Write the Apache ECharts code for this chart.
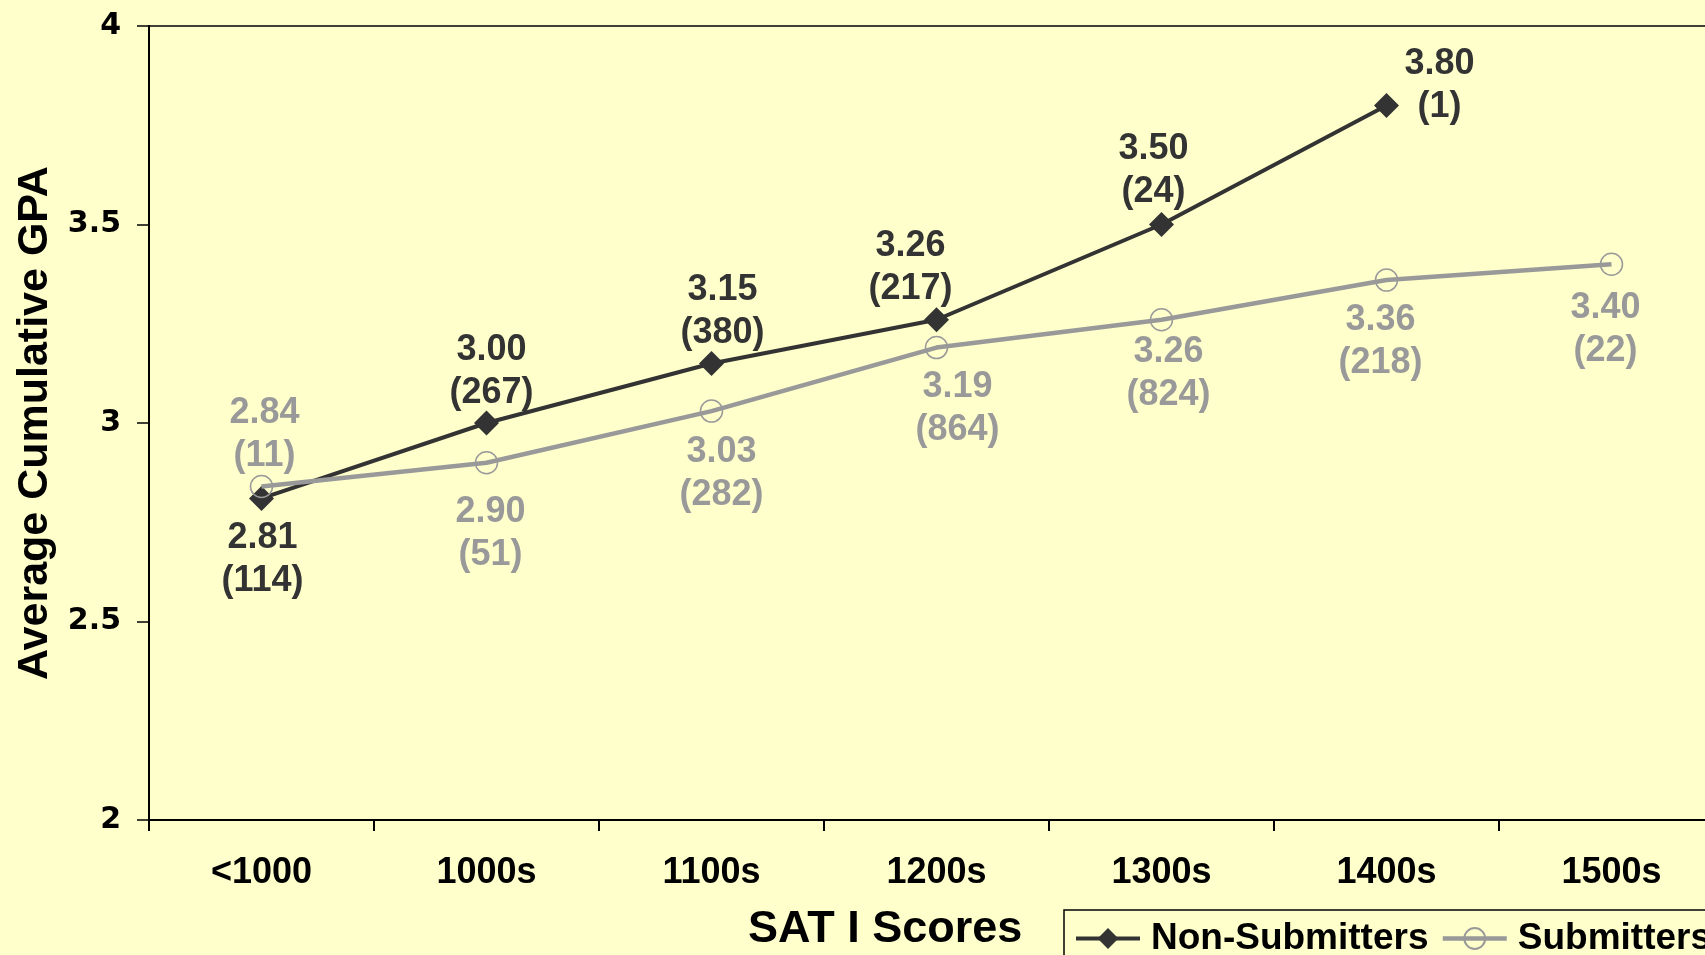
<!DOCTYPE html>
<html>
<head>
<meta charset="utf-8">
<script src="https://cdn.jsdelivr.net/npm/echarts@6/dist/echarts.min.js"></script>
<style>
html,body{margin:0;padding:0;background:#FFFFCC;}
#chart{width:1705px;height:955px;}
</style>
</head>
<body>
<div id="chart"></div>
<script>
const categories = ['<1000', '1000s', '1100s', '1200s', '1300s', '1400s', '1500s'];
const nonSubGPA = [2.81, 3.00, 3.15, 3.26, 3.50, 3.80, null];
const nonSubCounts = [114, 267, 380, 217, 24, 1, null];
const subGPA = [2.84, 2.90, 3.03, 3.19, 3.26, 3.36, 3.40];
const subCounts = [11, 51, 282, 864, 824, 218, 22];
const yTicks = [2, 2.5, 3, 3.5, 4];

// label placement (pixel offsets from each marker)
const nonSubLabelOffsets = [[1, 61], [5, -51], [11, -52], [-26, -52], [-8, -54], [53, -20], [0, 0]];
const subLabelOffsets = [[3, -52], [4, 71], [10, 62], [21, 61], [7, 54], [-6, 61], [-6, 65]];

const DARK = '#333333';
const GRAY = '#999999';
const FONT = '"Liberation Sans", Arial, sans-serif';

function buildData(values, counts, offsets, color) {
  return values.map((v, i) => {
    if (v === null) return '-';
    return {
      value: v,
      label: {
        show: true,
        position: 'inside',
        align: 'center',
        verticalAlign: 'middle',
        offset: offsets[i],
        formatter: v.toFixed(2) + '\n(' + counts[i] + ')',
        color: color,
        fontFamily: FONT,
        fontWeight: 'bold',
        fontSize: 36,
        lineHeight: 43
      }
    };
  });
}

const chart = echarts.init(document.getElementById('chart'));
chart.setOption({
  backgroundColor: '#FFFFCC',
  animation: false,
  title: {
    text: 'SAT I Scores',
    left: 748,
    top: 907,
    padding: 0,
    textStyle: { fontFamily: FONT, fontWeight: 'bold', fontSize: 45, color: '#000' }
  },
  legend: {
    left: 1064,
    top: 910,
    width: 800,
    orient: 'horizontal',
    padding: [10, 12, 20, 10],
    borderColor: '#000',
    borderWidth: 1.5,
    itemGap: 12,
    itemWidth: 64,
    itemHeight: 26,
    textStyle: { fontFamily: FONT, fontWeight: 'bold', fontSize: 37, color: '#000', padding: [0, 0, 0, 6] },
    data: [
      { name: 'Non-Submitters', lineStyle: { width: 4, color: DARK } },
      { name: 'Submitters', lineStyle: { width: 4.5, color: GRAY } }
    ]
  },
  grid: {
    left: 149,
    top: 26,
    width: 1575,
    height: 794,
    outerBoundsMode: 'none',
    containLabel: false,
    show: true,
    borderColor: '#000',
    borderWidth: 1.5,
    backgroundColor: 'transparent'
  },
  xAxis: {
    type: 'category',
    data: categories,
    boundaryGap: true,
    axisLine: { lineStyle: { color: '#000', width: 2 } },
    axisTick: { show: true, alignWithLabel: false, length: 11, inside: false, lineStyle: { color: '#000', width: 2 } },
    axisLabel: { margin: 35, fontFamily: FONT, fontWeight: 'bold', fontSize: 36, color: '#000' },
    splitLine: { show: false }
  },
  yAxis: {
    type: 'value',
    min: 2,
    max: 4,
    interval: 0.5,
    name: 'Average Cumulative GPA',
    nameLocation: 'middle',
    nameRotate: 90,
    nameGap: 92,
    nameTextStyle: { fontFamily: FONT, fontWeight: 'bold', fontSize: 43, color: '#000' },
    axisLine: { show: true, lineStyle: { color: '#000', width: 2 } },
    axisTick: { show: true, length: 12, lineStyle: { color: '#000', width: 1.5 } },
    axisLabel: {
      margin: 28,
      fontFamily: '"DejaVu Sans", sans-serif',
      fontWeight: 'bold',
      fontSize: 30,
      color: '#000',
      formatter: v => (yTicks.indexOf(v) >= 0 ? String(v) : '')
    },
    splitLine: { show: false }
  },
  series: [
    {
      name: 'Non-Submitters',
      type: 'line',
      data: buildData(nonSubGPA, nonSubCounts, nonSubLabelOffsets, DARK),
      symbol: 'diamond',
      symbolSize: 25,
      showAllSymbol: true,
      connectNulls: false,
      lineStyle: { color: DARK, width: 4 },
      itemStyle: { color: DARK, borderWidth: 0 },
      z: 2
    },
    {
      name: 'Submitters',
      type: 'line',
      data: buildData(subGPA, subCounts, subLabelOffsets, GRAY),
      symbol: 'circle',
      symbolSize: 22,
      showAllSymbol: true,
      lineStyle: { color: GRAY, width: 4.5 },
      itemStyle: { color: 'none', borderColor: GRAY, borderWidth: 1.5 },
      z: 3
    }
  ]
});
</script>
</body>
</html>
